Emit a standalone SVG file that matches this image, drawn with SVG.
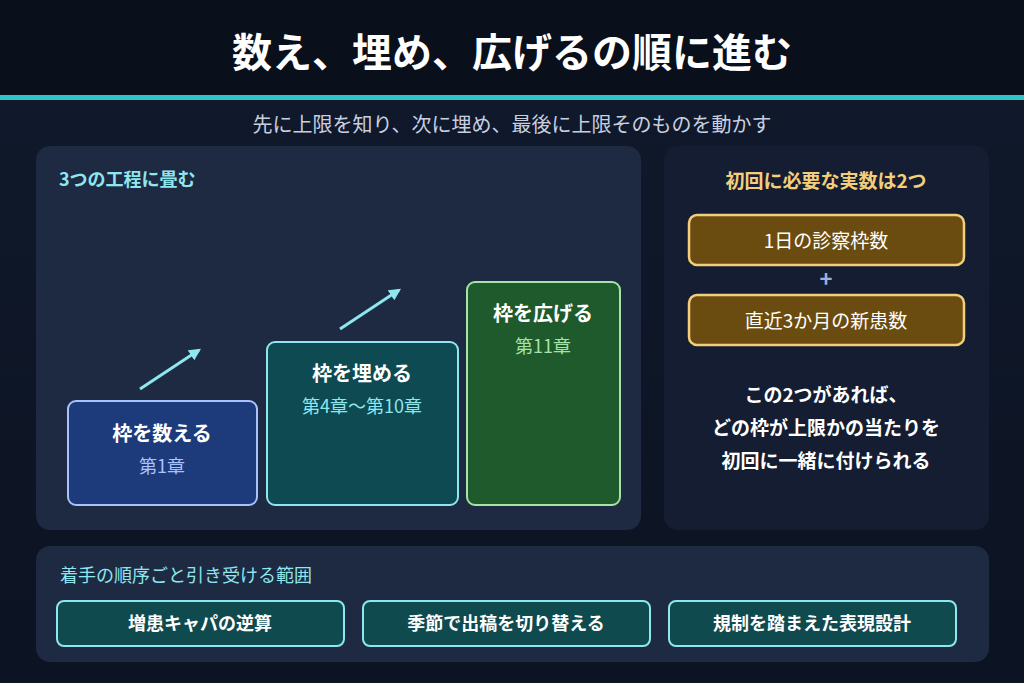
<svg xmlns="http://www.w3.org/2000/svg" width="1024" height="683" viewBox="0 0 1024 683">
<defs>
<linearGradient id="bg" x1="0" y1="0" x2="0" y2="1"><stop offset="0" stop-color="#101a2c"/><stop offset="1" stop-color="#0c1322"/></linearGradient>
<marker id="ah" viewBox="0 0 10 10" refX="8" refY="5" markerWidth="4" markerHeight="4" orient="auto"><path d="M0,0 L10,5 L0,10 z" fill="#8ee6ee"/></marker>
<style>
text{font-family:"Noto Sans CJK JP","Noto Sans",sans-serif;text-anchor:middle}
.panel{fill:#1e2942}
.b{font-weight:700;fill:#fff}
.gold{fill:#6b4c10;stroke:#f3cf7c;stroke-width:2.5}
.teal{fill:#0f4a4e;stroke:#8ee6ee;stroke-width:2}
</style>
</defs>
<rect width="1024" height="683" fill="url(#bg)"/>
<rect width="1024" height="96" fill="#0a0f1c"/>
<rect y="95" width="1024" height="5" fill="#2ec4c8"/>
<text x="512" y="67" class="b" font-size="40">数え、埋め、広げるの順に進む</text>
<text x="512" y="132" font-size="20" fill="#c8d0e0">先に上限を知り、次に埋め、最後に上限そのものを動かす</text>
<rect x="36" y="146" width="605" height="384" rx="14" class="panel"/>
<text x="59" y="186" font-size="18" font-weight="700" fill="#8ee6ee" style="text-anchor:start">3つの工程に畳む</text>
<rect x="664" y="146" width="325" height="384" rx="14" fill="#141d31"/>
<text x="826" y="188" font-size="19" font-weight="700" fill="#f3cf7c">初回に必要な実数は2つ</text>
<g id="n1"><rect x="68" y="401" width="189" height="104" rx="8" fill="#1d3a7a" stroke="#a9c2ff" stroke-width="2"/><text x="162" y="441" class="b" font-size="20">枠を数える</text><text x="162" y="473" font-size="18" fill="#a9c2ff">第1章</text></g>
<g id="n2"><rect x="267" y="342" width="191" height="163" rx="8" fill="#0e4a52" stroke="#8ee6ee" stroke-width="2"/><text x="362" y="381" class="b" font-size="20">枠を埋める</text><text x="362" y="413" font-size="18" fill="#8ee6ee">第4章〜第10章</text></g>
<g id="n3"><rect x="467" y="282" width="153" height="223" rx="8" fill="#1f5a2c" stroke="#a6e3a8" stroke-width="2"/><text x="543" y="321" class="b" font-size="20">枠を広げる</text><text x="543" y="353" font-size="18" fill="#a6e3a8">第11章</text></g>
<g id="connectors" stroke="#8ee6ee" stroke-width="3" marker-end="url(#ah)">
<line x1="140" y1="389" x2="199" y2="350"/>
<line x1="340" y1="329" x2="399" y2="290"/>
</g>
<g id="f1"><rect x="689" y="215" width="275" height="50" rx="8" class="gold"/><text x="826" y="248" font-size="19" fill="#fff">1日の診察枠数</text></g>
<text x="826" y="287" font-size="22" font-weight="700" fill="#9fb3d8">+</text>
<g id="f2"><rect x="689" y="295" width="275" height="50" rx="8" class="gold"/><text x="826" y="328" font-size="19" fill="#fff">直近3か月の新患数</text></g>
<text x="826" y="402" class="b" font-size="19">この2つがあれば、</text>
<text x="826" y="435" class="b" font-size="19">どの枠が上限かの当たりを</text>
<text x="826" y="468" class="b" font-size="19">初回に一緒に付けられる</text>
<rect x="36" y="546" width="953" height="116" rx="14" class="panel"/>
<text x="60" y="582" font-size="18" fill="#8ee6ee" style="text-anchor:start">着手の順序ごと引き受ける範囲</text>
<g id="s1"><rect x="57" y="601" width="287" height="45" rx="7" class="teal"/><text x="200" y="630" class="b" font-size="18">増患キャパの逆算</text></g>
<g id="s2"><rect x="363" y="601" width="287" height="45" rx="7" class="teal"/><text x="506" y="630" class="b" font-size="18">季節で出稿を切り替える</text></g>
<g id="s3"><rect x="669" y="601" width="287" height="45" rx="7" class="teal"/><text x="812" y="630" class="b" font-size="18">規制を踏まえた表現設計</text></g>
</svg>
